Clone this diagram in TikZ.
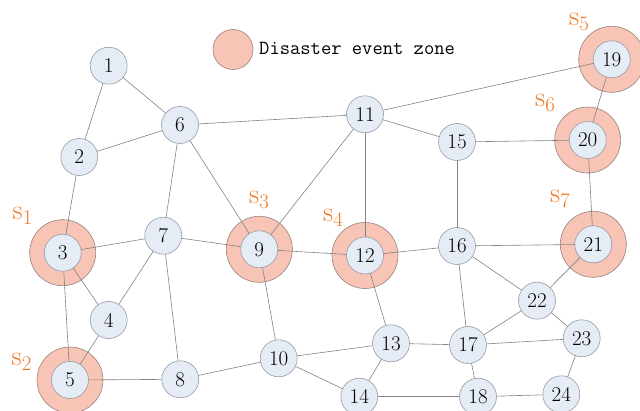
\documentclass[tikz,border=0pt]{standalone}
\usepackage{amsmath}
\definecolor{nodefill}{RGB}{230,236,246}
\definecolor{nodeline}{RGB}{150,155,165}
\definecolor{edgecol}{RGB}{130,130,130}
\definecolor{zonefill}{RGB}{248,196,182}
\definecolor{zoneline}{RGB}{150,130,125}
\definecolor{tagcol}{RGB}{238,118,30}
\begin{document}
\begin{tikzpicture}[x=1pt,y=-1pt,
  vtx/.style={circle,draw=nodeline,line width=0.6pt,fill=nodefill,minimum size=37pt,inner sep=0pt,
    font=\fontsize{21}{21}\selectfont},
  zone/.style={circle,draw=zoneline,line width=0.6pt,fill=zonefill,minimum size=66pt,inner sep=0pt},
  link/.style={draw=edgecol,line width=0.6pt},
  tag/.style={anchor=base west,inner sep=0pt,text=tagcol,font=\fontsize{28}{28}\selectfont}]
\useasboundingbox (0,0) rectangle (640,411);

% vertex positions
\coordinate (p1) at (108.7,65.7);
\coordinate (p2) at (79.3,157);
\coordinate (p3) at (62.7,252.7);
\coordinate (p4) at (108.7,320);
\coordinate (p5) at (70,380);
\coordinate (p6) at (180,125);
\coordinate (p7) at (163.3,235.7);
\coordinate (p8) at (180.3,379.3);
\coordinate (p9) at (259.3,249.3);
\coordinate (p10) at (278.7,358.3);
\coordinate (p11) at (365,114.3);
\coordinate (p12) at (365,255.5);
\coordinate (p13) at (391,343.3);
\coordinate (p14) at (359.3,396.7);
\coordinate (p15) at (457,142);
\coordinate (p16) at (457,246);
\coordinate (p17) at (468,345);
\coordinate (p18) at (478,396.7);
\coordinate (p19) at (611.7,59.3);
\coordinate (p20) at (587.7,140);
\coordinate (p21) at (593.3,244.3);
\coordinate (p22) at (537,300.7);
\coordinate (p23) at (581.7,338.3);
\coordinate (p24) at (561.3,394.3);

% disaster event zones
\foreach \z in {3,5,9,12,19,20,21}
  \node[zone] (z\z) at (p\z) {};

% legend
\node[zone,minimum size=40pt] (legz) at (233,49.5) {};
\node[anchor=base west,inner sep=0pt,font=\ttfamily\fontsize{20}{20}\selectfont] (legt) at (259,54.5) {Disaster event zone};

% links
\foreach \a/\b in {1/2,1/6,2/6,2/3,6/11,6/7,6/9,11/19,11/15,11/9,11/12,15/20,15/16,19/20,20/21,
  3/7,3/4,3/5,7/4,7/9,7/8,4/5,5/8,9/12,9/10,8/10,10/13,10/14,12/16,12/13,16/21,16/22,16/17,
  21/22,22/17,22/23,13/17,13/14,17/23,17/18,14/18,18/24,23/24}
  \draw[link] (p\a) -- (p\b);

% vertices
\foreach \v in {1,...,24}
  \node[vtx] (n\v) at (p\v) {\v};

% zone tags
\node[tag] (s1) at (12.5,219.5) {s$_{1}$};
\node[tag] (s2) at (11.5,366) {s$_{2}$};
\node[tag] (s3) at (249,204) {s$_{3}$};
\node[tag] (s4) at (323,222) {s$_{4}$};
\node[tag] (s5) at (569,26) {s$_{5}$};
\node[tag] (s6) at (535,107) {s$_{6}$};
\node[tag] (s7) at (550,203) {s$_{7}$};
\end{tikzpicture}
\end{document}
